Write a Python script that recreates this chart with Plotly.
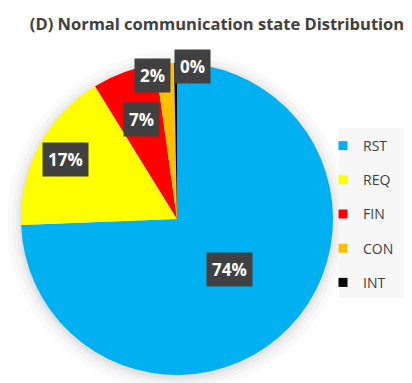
import math
import plotly.graph_objects as go

# 通信状態の分布 (%)
labels = ["RST", "REQ", "FIN", "CON", "INT"]
values = [74.4, 16.8, 6.6, 1.9, 0.3]
colors = ["#00b0f0", "#ffff00", "#ff0000", "#ffc000", "#000000"]

OFF = 8                             # ページ余白 (body margin)
W, H = 412 - OFF, 383 - OFF
CX, CY, R = 177 - OFF, 219 - OFF, 156     # 円の中心と半径 (px)
lbl_r = [0.47, 0.81, 0.68, 0.92, 0.98]   # ラベル位置 (半径比)
lbl_dx = [0, 0, 0, -13, 17]              # 小さい扇形のずらし


def px2paper(x, y):
    return x / W, 1 - y / H


fig = go.Figure()

# 円の影 (うっすら)
for k, a in [(14, 0.02), (9, 0.025), (5, 0.03), (2, 0.04)]:
    x0, y1 = px2paper(CX - R - k, CY - R - k + 2)
    x1, y0 = px2paper(CX + R + k, CY + R + k + 2)
    fig.add_shape(type="circle", xref="paper", yref="paper", layer="below",
                  x0=x0, x1=x1, y0=y0, y1=y1,
                  fillcolor=f"rgba(0,0,0,{a})", line=dict(width=0))

fig.add_trace(go.Pie(
    labels=labels, values=values, sort=False, direction="clockwise", rotation=0,
    marker=dict(colors=colors, line=dict(width=0)),
    textinfo="none", showlegend=False, hoverinfo="label+percent",
    domain=dict(x=[(CX - R) / W, (CX + R) / W], y=[1 - (CY + R) / H, 1 - (CY - R) / H]),
))

# 凡例 (グループ間隔を使うためダミーの散布図)
for lab, col in zip(labels, colors):
    fig.add_trace(go.Scatter(
        x=[None], y=[None], mode="markers", name=lab, legendgroup=lab,
        marker=dict(symbol="square", size=9, color=col),
    ))

# データラベル (濃いグレーの箱)
total = sum(values)
cum = 0
for i, v in enumerate(values):
    mid = (cum + v / 2) / total * 2 * math.pi
    cum += v
    px = CX + R * lbl_r[i] * math.sin(mid) + lbl_dx[i]
    py = CY - R * lbl_r[i] * math.cos(mid)
    ax, ay = px2paper(px, py)
    fig.add_annotation(
        x=ax, y=ay, xref="paper", yref="paper", xanchor="center", yanchor="middle",
        text=f"<b>{round(v / total * 100)}%</b>", showarrow=False,
        font=dict(family="Open Sans", size=17, color="white"),
        bgcolor="#404040", borderpad=5,
    )

lx0, ly1 = px2paper(339 - OFF, 128 - OFF)
_, ly0 = px2paper(0, 298 - OFF)
fig.add_shape(type="rect", xref="paper", yref="paper", layer="below",
              x0=lx0, x1=1, y0=ly0, y1=ly1,
              fillcolor="#f7f7f7", line=dict(width=0))

tx, ty = px2paper(217 - OFF, 24 - OFF)
gx, gy = px2paper(323 - OFF, 130 - OFF)
fig.update_layout(
    width=W, height=H, margin=dict(l=0, r=0, t=0, b=0),
    paper_bgcolor="white", plot_bgcolor="rgba(0,0,0,0)",
    title=dict(text="<b>(D) Normal communication state Distribution</b>",
               x=tx, y=ty, xanchor="center", yanchor="middle",
               font=dict(family="Open Sans", size=16.5, color="#404040")),
    xaxis=dict(visible=False), yaxis=dict(visible=False),
    legend=dict(x=gx, y=gy, xanchor="left", yanchor="top",
                bgcolor="rgba(0,0,0,0)", tracegroupgap=13, itemwidth=30,
                font=dict(family="Open Sans", size=14, color="#404040")),
)

fig.write_html("out.html")
